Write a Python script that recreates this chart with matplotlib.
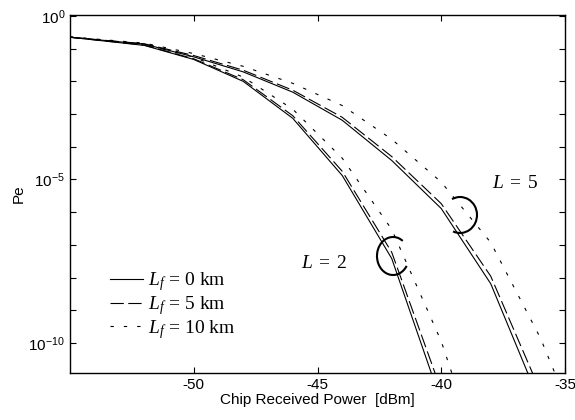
import numpy as np
import matplotlib
matplotlib.use('Agg')
import matplotlib.pyplot as plt
from matplotlib.patches import Arc
from matplotlib.ticker import FixedLocator, FixedFormatter

plt.rcParams['font.family'] = ['Liberation Sans', 'DejaVu Sans']
plt.rcParams['mathtext.fontset'] = 'custom'
plt.rcParams['mathtext.rm'] = 'Liberation Serif'
plt.rcParams['mathtext.it'] = 'Liberation Serif:italic'
plt.rcParams['mathtext.sf'] = 'Liberation Sans'

# received power grid [dBm]
p_L2 = [-55, -52, -50, -48, -46, -44, -42, -40, -38]
p_L5 = [-55, -52, -50, -48, -46, -44, -42, -40, -38, -36, -34]

# log10(Pe)
L2_lf0 = [-0.65, -0.90, -1.33, -2.00, -3.13, -4.88, -7.42, -11.80, -16.0]
L2_lf5 = [-0.65, -0.89, -1.31, -1.95, -3.05, -4.75, -7.23, -11.45, -15.6]
L2_lf10 = [-0.64, -0.86, -1.26, -1.87, -2.85, -4.35, -6.53, -9.95, -14.5]

L5_lf0 = [-0.65, -0.86, -1.25, -1.71, -2.33, -3.19, -4.42, -5.89, -8.19, -11.84, -15.5]
L5_lf5 = [-0.65, -0.85, -1.21, -1.66, -2.27, -3.10, -4.30, -5.74, -7.96, -11.47, -15.1]
L5_lf10 = [-0.64, -0.83, -1.15, -1.54, -2.06, -2.74, -3.77, -5.08, -6.93, -9.84, -13.5]

fig = plt.figure(figsize=(5.75, 4.2), dpi=100)
ax = fig.add_axes([70/575, 47/420, 495/575, 358/420])

lw = 0.8
styles = [dict(ls='-'), dict(ls=(0, (12, 4))), dict(ls=(0, (3, 9)))]
labels = [r'$L_f\,=\,0\ \mathrm{km}$', r'$L_f\,=\,5\ \mathrm{km}$', r'$L_f\,=\,10\ \mathrm{km}$']

for ys, st, lab in zip([L2_lf0, L2_lf5, L2_lf10], styles, labels):
    ax.plot(p_L2, 10**np.array(ys), color='black', lw=lw, label=lab, **st)
for ys, st in zip([L5_lf0, L5_lf5, L5_lf10], styles):
    ax.plot(p_L5, 10**np.array(ys), color='black', lw=lw, **st)

ax.set_yscale('log')
ax.set_xlim(-55, -35)
ax.set_ylim(10**-10.92, 10**0.03)

decades = [10.0**k for k in range(-10, 1)]
ax.yaxis.set_major_locator(FixedLocator(decades))
ylab = []
for k in range(-10, 1):
    ylab.append(r'$\mathsf{10^{%d}}$' % k if k in (0, -5, -10) else '')
ax.yaxis.set_major_formatter(FixedFormatter(ylab))
ax.yaxis.set_minor_locator(FixedLocator([]))
ax.set_xticks([-50, -45, -40, -35])
ax.set_xticklabels(['-50', '-45', '-40', '-35'])

ax.tick_params(direction='in', top=True, right=True, length=4, width=0.8,
               labelsize=11)
for s in ax.spines.values():
    s.set_linewidth(1.0)

ax.set_xlabel('Chip Received Power  [dBm]', fontsize=11, labelpad=1)
ax.set_ylabel('Pe', fontsize=11, labelpad=2)

ax.text((492-70)/495, (420-184-47)/358, r'$L\;=\;5$', transform=ax.transAxes,
        fontsize=14, va='center', ha='left')
ax.text((301-70)/495, (420-263-47)/358, r'$L\;=\;2$', transform=ax.transAxes,
        fontsize=14, va='center', ha='left')

ax.add_patch(Arc(((460-70)/495, (420-215-47)/358), 34/495, 36/358,
                 theta1=253, theta2=110, transform=ax.transAxes,
                 color='black', lw=1.5))
ax.add_patch(Arc(((393-70)/495, (420-256-47)/358), 32/495, 38/358,
                 theta1=65, theta2=315, transform=ax.transAxes,
                 color='black', lw=1.5))

ax.legend(loc='lower left', bbox_to_anchor=((110-70)/495, (420-341-47)/358),
          frameon=False, fontsize=14, handlelength=1.7, handletextpad=0.25,
          labelspacing=0.05, borderpad=0, borderaxespad=0)

fig.savefig('out.png', dpi=100)
